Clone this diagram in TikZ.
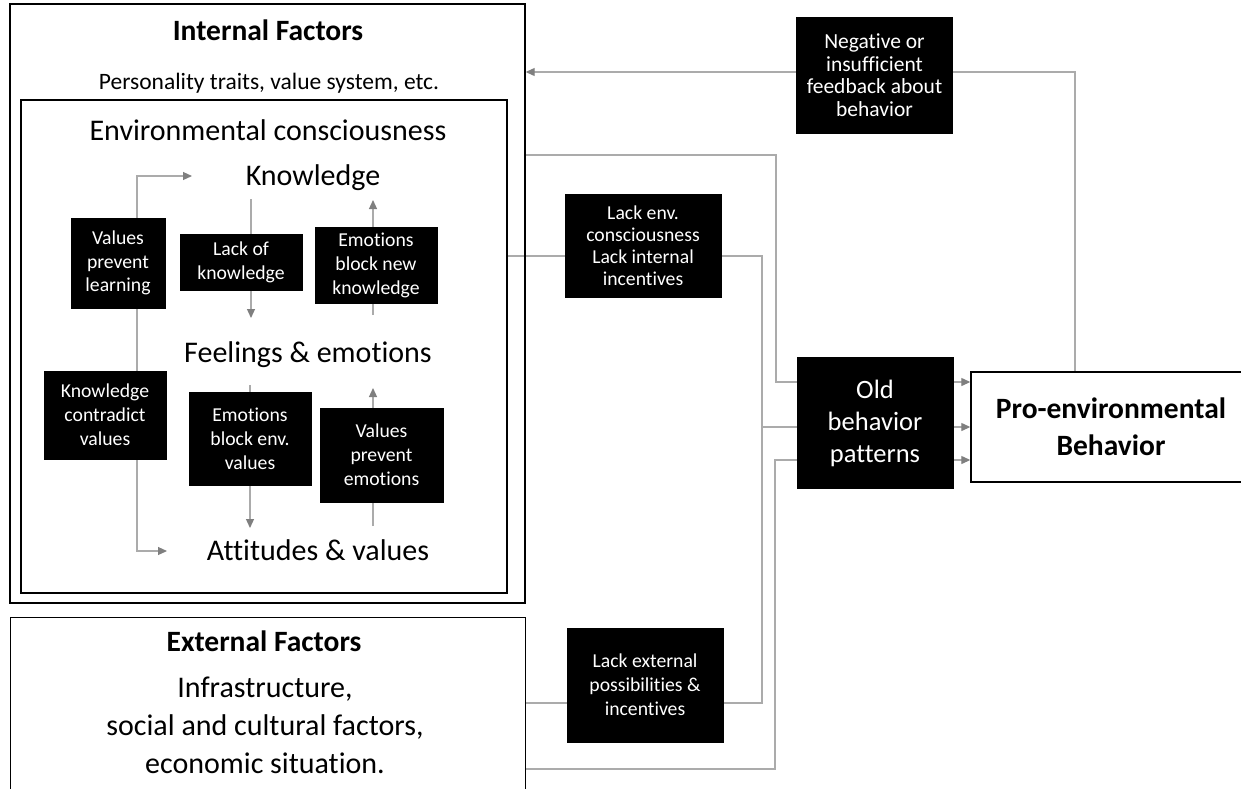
\documentclass[tikz,border=0pt]{standalone}
\usepackage{fontspec}
\setmainfont{Carlito}[Ligatures={NoCommon,TeX}]
\usetikzlibrary{arrows.meta,backgrounds}
\definecolor{lgray}{HTML}{ABABAB}
\definecolor{tgray}{HTML}{7F7F7F}
\tikzset{
  frame/.style={draw=black, line width=1.4pt, inner sep=0pt},
  blk/.style={fill=black, draw=black, text=white, inner sep=0pt, align=center,
              font=\fontsize{19.7}{23.8}\selectfont},
  lbl/.style={inner sep=0pt, align=center, text=black},
  ln/.style={draw=lgray, line width=1.2pt},
  ar/.style={ln, -{Triangle[length=9pt,width=8pt,color=tgray]}},
}
\begin{document}
\begin{tikzpicture}[x=1pt,y=-1pt]
\useasboundingbox (0,0) rectangle (1241,788);

% containers
\node[frame, minimum width=515pt, minimum height=599pt] (int) at (267.5,303.5) {};
\node[frame, minimum width=486pt, minimum height=493pt] (inner) at (264,346.5) {};
\node[frame, minimum width=515pt, minimum height=200pt, anchor=north west] (ext) at (10,617) {};

% texts
\node[lbl, anchor=base, font=\bfseries\fontsize{29.5}{36}\selectfont] (tint) at (268,40) {Internal Factors};
\node[lbl, anchor=base, font=\fontsize{23.5}{28}\selectfont] (pers) at (269,89.5) {Personality traits, value system, etc.};
\node[lbl, anchor=base, font=\fontsize{30}{36}\selectfont] (envc) at (268,140) {Environmental consciousness};
\node[lbl, anchor=base, font=\fontsize{30}{36}\selectfont] (know) at (313,185) {Knowledge};
\node[lbl, anchor=base, font=\fontsize{30}{36}\selectfont] (feel) at (308,362) {Feelings \& emotions};
\node[lbl, anchor=base, font=\fontsize{30}{36}\selectfont] (att) at (318,560) {Attitudes \& values};
\node[lbl, anchor=base, font=\bfseries\fontsize{29.5}{36}\selectfont] (text) at (264,651) {External Factors};
\node[lbl, font=\fontsize{30}{38}\selectfont] (extd) at (265,725) {Infrastructure,\\social and cultural factors,\\economic situation.};

% black boxes inside
\node[blk, minimum width=94pt, minimum height=90pt] (vpl) at (118,263) {Values\\prevent\\learning};
\node[blk, minimum width=122pt, minimum height=56pt] (lok) at (241,262) {Lack of\\knowledge};
\node[blk, minimum width=122pt, minimum height=76pt] (ebnk) at (376,265.5) {Emotions\\block new\\knowledge};
\node[blk, minimum width=122pt, minimum height=88pt] (kcv) at (105,415) {Knowledge\\contradict\\values};
\node[blk, minimum width=122pt, minimum height=93pt] (ebev) at (250,438.5) {Emotions\\block env.\\values};
\node[blk, minimum width=123pt, minimum height=94pt] (vpe) at (381.5,455) {Values\\prevent\\emotions};

% right side boxes
\node[blk, minimum width=156pt, minimum height=116pt, font=\fontsize{21.5}{22.5}\selectfont] (neg) at (874.5,75) {Negative or\\insufficient\\feedback about\\behavior};
\node[blk, minimum width=156pt, minimum height=103pt, font=\fontsize{19.7}{22}\selectfont] (lenv) at (643,245.5) {Lack env.\\consciousness\\Lack internal\\incentives};
\node[blk, minimum width=156pt, minimum height=114pt] (lext) at (645,685) {Lack external\\possibilities \&\\incentives};
\node[blk, minimum width=156pt, minimum height=131pt, font=\fontsize{26.5}{32}\selectfont] (old) at (875,423) {Old\\behavior\\patterns};
\node[frame, fill=white, align=center, minimum width=280pt, minimum height=110pt,
      font=\bfseries\fontsize{29.5}{37}\selectfont] (pro) at (1111,427) {Pro-environmental\\Behavior};

% coordinates
\coordinate (lx) at (137,0);
\coordinate (kin) at (192,176);
\coordinate (ain) at (167,551);
\coordinate (k1) at (251,199); \coordinate (k2) at (251,318);
\coordinate (e1) at (373,315); \coordinate (e2) at (373,200);
\coordinate (f1) at (250,385); \coordinate (f2) at (250,528);
\coordinate (a1) at (373,526); \coordinate (a2) at (373,388);
\coordinate (c0) at (1075,72);
\coordinate (c1) at (776,155); \coordinate (c2) at (776,382);
\coordinate (c3) at (762,256); \coordinate (c4) at (762,427);
\coordinate (c5) at (762,703);
\coordinate (c6) at (775,769); \coordinate (c7) at (775,460);

\begin{pgfonlayer}{background}
  % inside consciousness
  \draw[ar] (vpl.north -| lx) |- (kin);
  \draw[ln] (vpl.south -| lx) -- (kcv.north -| lx);
  \draw[ar] (kcv.south -| lx) |- (ain);
  \draw[ar] (k1) -- (k2);
  \draw[ar] (e1) -- (e2);
  \draw[ar] (f1) -- (f2);
  \draw[ar] (a1) -- (a2);
  % feedback loop
  \draw[ln] (pro.north -| c0) -- (c0) -- (neg.east |- c0);
  \draw[ar] (neg.west |- c0) -- (int.east |- c0);
  % into old behavior
  \draw[ln] (int.east |- c1) -| (c2) -- (c2 -| old.west);
  \draw[ln] (inner.east |- c3) -- (lenv.west |- c3);
  \draw[ln] (lenv.east |- c3) -| (c4) -- (c4 -| old.west);
  \draw[ln] (ext.east |- c5) -- (lext.west |- c5);
  \draw[ln] (lext.east |- c5) -- (c5) -- (c4);
  \draw[ln] (ext.east |- c6) -- (c6) -- (c7) -- (c7 -| old.west);
  % into pro-environmental behavior
  \draw[ar] (c2 -| old.east) -- (c2 -| pro.west);
  \draw[ar] (c4 -| old.east) -- (c4 -| pro.west);
  \draw[ar] (c7 -| old.east) -- (c7 -| pro.west);
\end{pgfonlayer}
\end{tikzpicture}
\end{document}
